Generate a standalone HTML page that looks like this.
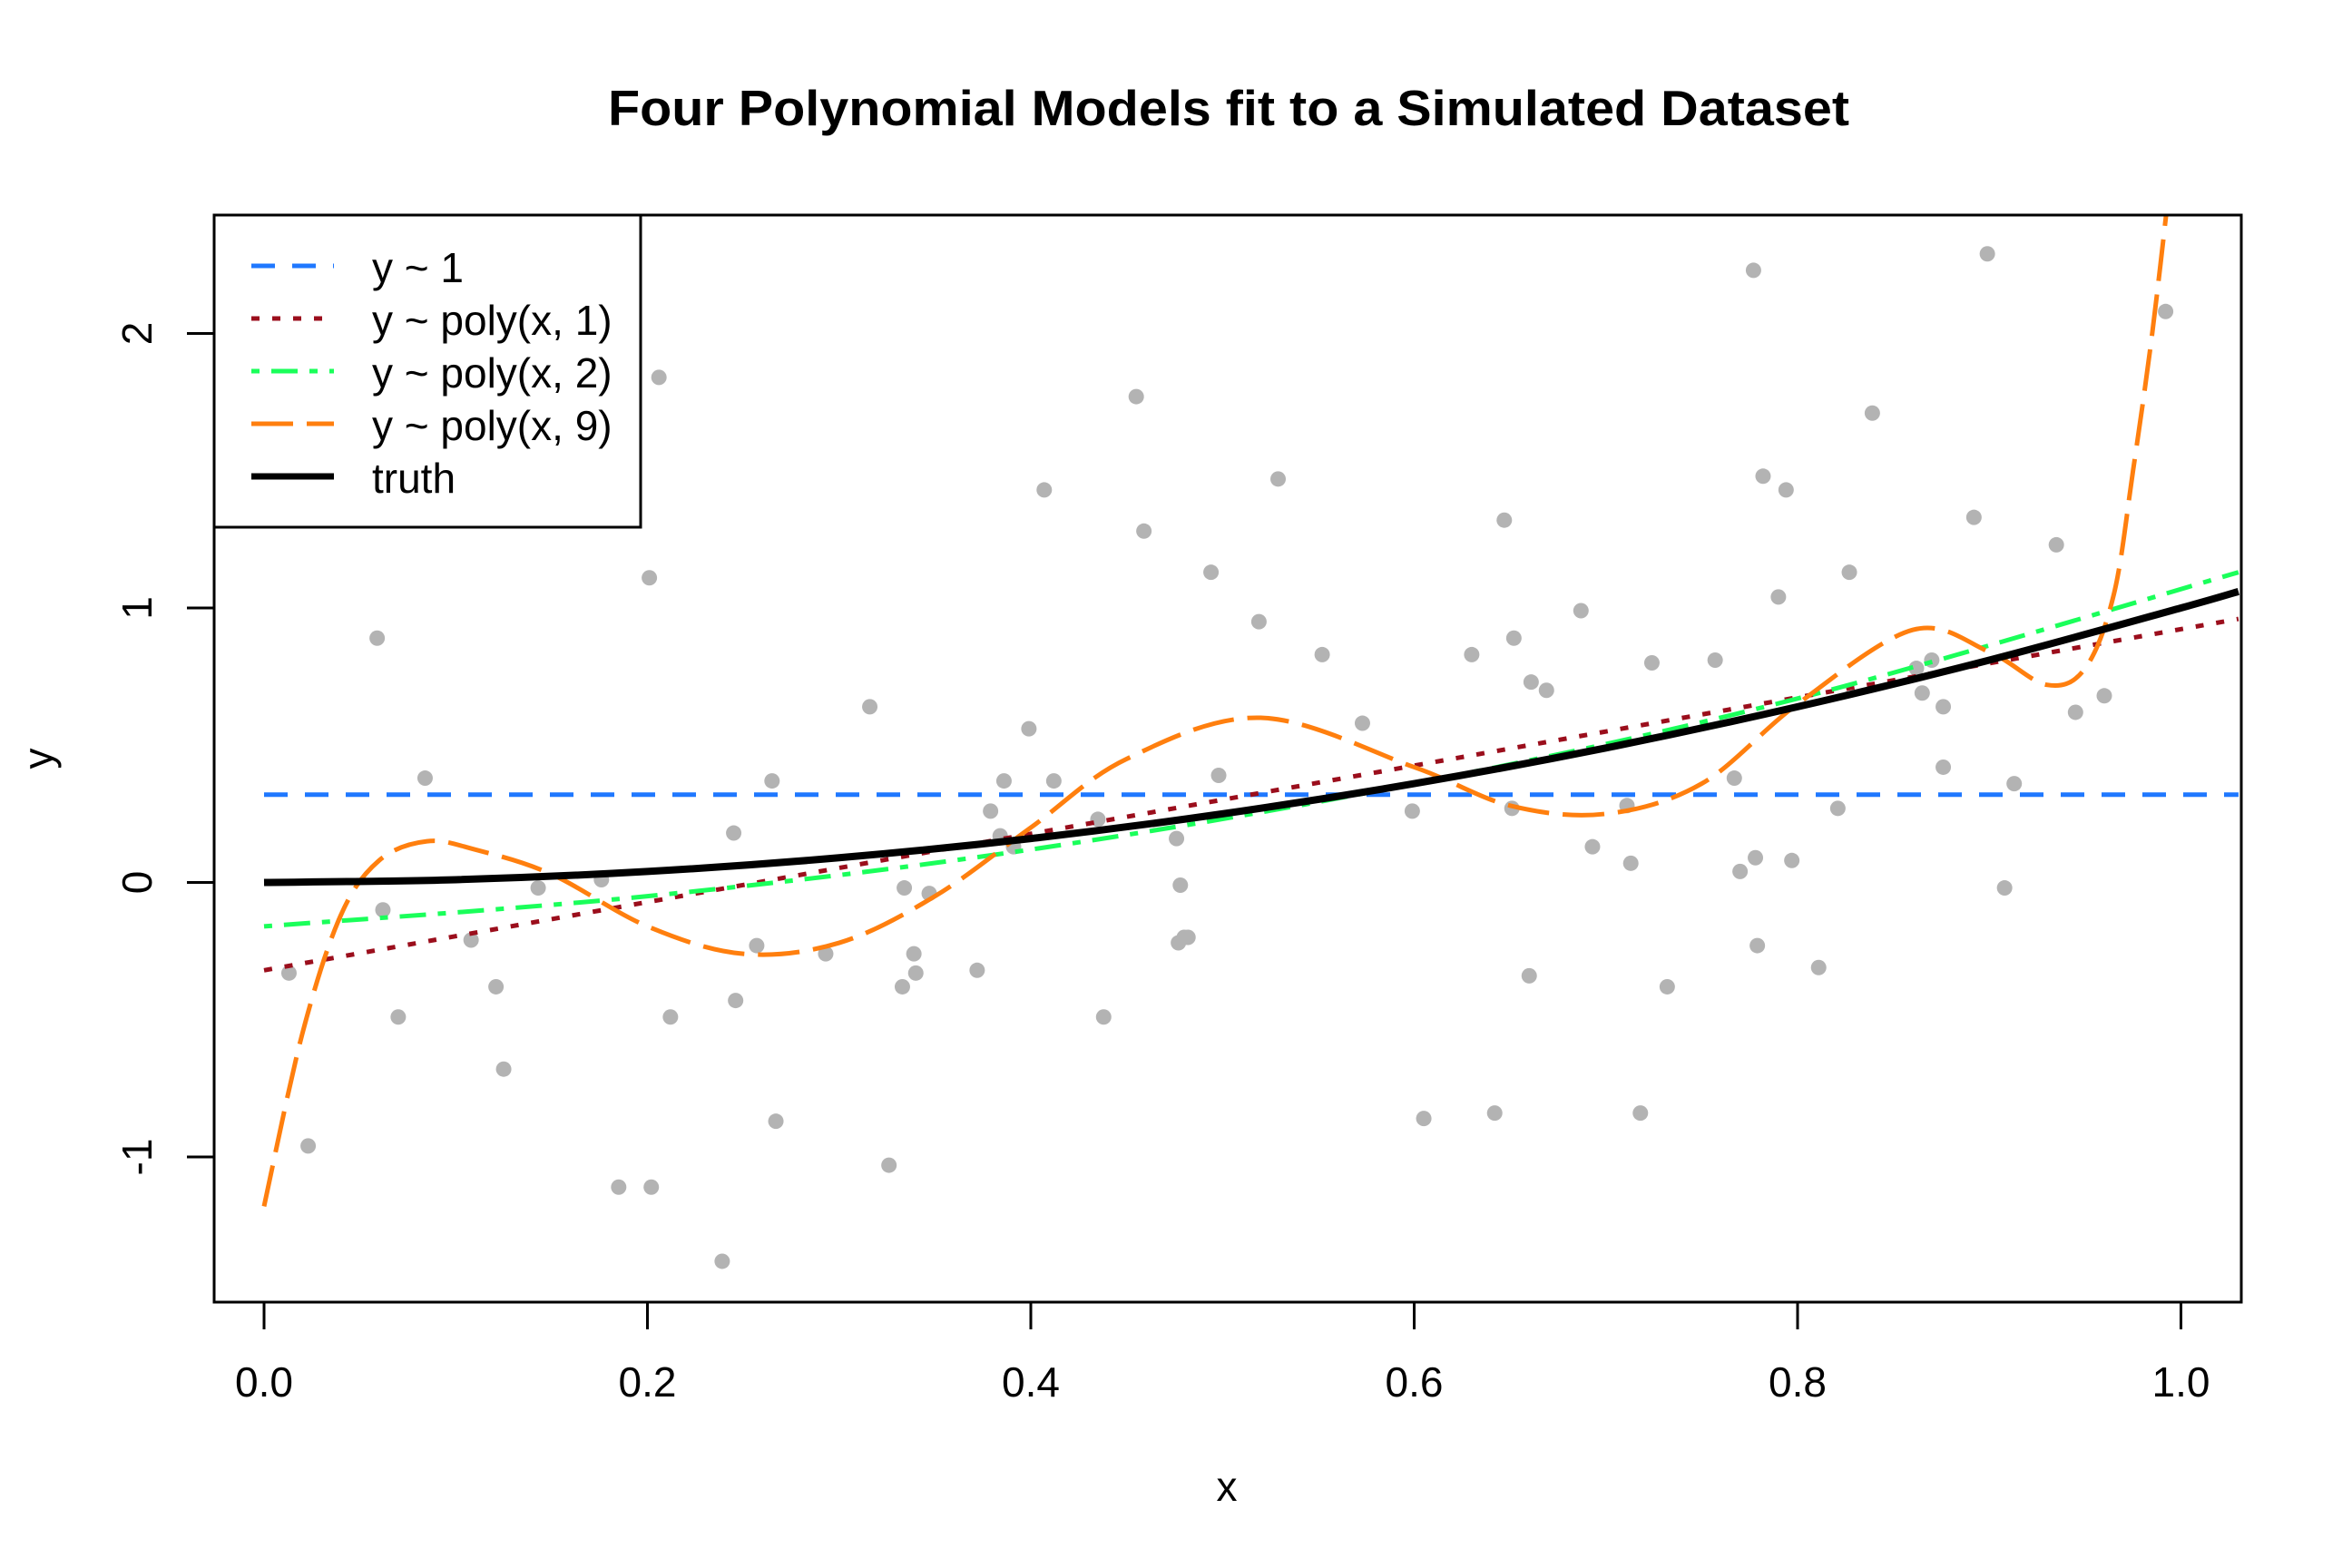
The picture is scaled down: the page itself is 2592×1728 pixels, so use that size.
<!DOCTYPE html>
<html><head><meta charset="utf-8"><style>html,body{margin:0;padding:0;background:#fff}svg{display:block}</style></head>
<body>
<svg id="chart" xmlns="http://www.w3.org/2000/svg" width="2592" height="1728" viewBox="0 0 2592 1728" font-family="Liberation Sans, sans-serif">
<rect width="2592" height="1728" fill="#fff"/>
<text x="1354" y="138" font-size="55" font-weight="bold" text-anchor="middle" textLength="1368" lengthAdjust="spacingAndGlyphs">Four Polynomial Models fit to a Simulated Dataset</text>
<g id="marks"></g>
<g id="axes"></g>
<g id="legend"></g>
</svg>
<script>
const ptsX=[.013,.023,.059,.062,.070,.084,.108,.121,.125,.143,.176,.185,.201,.202,.206,.212,.239,.245,.246,.257,.265,.267,.293,.316,.326,.333,.334,.339,.340,.347,.372,.379,.384,.386,.391,.399,.407,.412,.435,.438,.455,.459,.476,.477,.478,.480,.482,.494,.498,.519,.529,.552,.573,.599,.605,.630,.642,.647,.651,.652,.660,.661,.669,.687,.693,.711,.713,.718,.724,.732,.757,.767,.770,.777,.778,.779,.782,.790,.794,.797,.811,.821,.827,.839,.862,.865,.870,.876,.876,.892,.899,.908,.913,.945,.935,.960,.992];
const ptsY=[-.33,-.96,.89,-.10,-.49,.38,-.21,-.38,-.68,-.02,.01,-1.11,1.11,-1.11,1.84,-.49,-1.38,.18,-.43,-.23,.37,-.87,-.26,.64,-1.03,-.38,-.02,-.26,-.33,-.04,-.32,.26,.17,.37,.13,.56,1.43,.37,.23,-.49,1.77,1.28,.16,-.22,-.01,-.20,-.20,1.13,.39,.95,1.47,.83,.58,.26,-.86,.83,-.84,1.32,.27,.89,-.34,.73,.70,.99,.13,.28,.07,-.84,.80,-.38,.81,.38,.04,2.23,.09,-.23,1.48,1.04,1.43,.08,-.31,.27,1.13,1.71,.78,.69,.81,.64,.42,1.33,2.29,-.02,.36,.62,1.23,.68,2.08];
const curveX=[0,.02,.04,.06,.085,.11,.15,.2,.25,.3,.35,.4,.45,.52,.6,.65,.7,.75,.8,.86,.9,.93,.95,.965,.975,.985,.995];
const fit9Y=[-1.18,-.55,-.12,.08,.15,.12,.03,-.16,-.26,-.22,-.05,.2,.45,.6,.42,.28,.25,.36,.65,.92,.84,.72,.78,1.05,1.5,2.0,2.6];
const truthX=[0,.1,.2,.3,.4,.5,.6,.7,.8,.9,1.0,1.03];
const truthY=[0,.01,.04,.09,.16,.25,.36,.49,.64,.81,1.0,1.06];
const fit1X=[0,1.03];const fit1Y=[-.32,.96];
const fit2X=[0,.2,.4,.6,.8,1.03];const fit2Y=[-.16,-.05,.12,.36,.67,1.13];
const fit0Y=[.32];
const xTicks=[0,.2,.4,.6,.8,1.0];const xTickLabels=["0.0","0.2","0.4","0.6","0.8","1.0"];
const yTicks=[-1,0,1,2];const yTickLabels=["-1","0","1","2"];

const L=236,R=2470,T=237,B=1435;
const sx=v=>291+v*2112.5, sy=v=>972.5-v*302.5;
const NS='http://www.w3.org/2000/svg';
function mk(tag,attrs,parent){const e=document.createElementNS(NS,tag);for(const k in attrs)e.setAttribute(k,attrs[k]);parent.appendChild(e);return e;}
const marks=document.getElementById('marks'),axes=document.getElementById('axes'),leg=document.getElementById('legend');
mk('clipPath',{id:'clip'},marks);mk('rect',{x:L,y:T,width:R-L,height:B-T},document.getElementById('clip'));
const g=mk('g',{'clip-path':'url(#clip)'},marks);


ptsX.forEach((x,i)=>{const c=mk('circle',{cx:sx(x),cy:sy(ptsY[i]),r:8.5,fill:'#b3b3b3'},g);

});
function smooth(xs,ys){const p=xs.map((x,i)=>[sx(x),sy(ys[i])]);let d='M'+p[0][0]+','+p[0][1];
for(let i=0;i<p.length-1;i++){const p0=p[i-1]||p[i],p1=p[i],p2=p[i+1],p3=p[i+2]||p2;
d+=' C'+(p1[0]+(p2[0]-p0[0])/6)+','+(p1[1]+(p2[1]-p0[1])/6)+' '+(p2[0]-(p3[0]-p1[0])/6)+','+(p2[1]-(p3[1]-p1[1])/6)+' '+p2[0]+','+p2[1];}return d;}
let e;
e=mk('line',{x1:sx(0),x2:sx(1.03),y1:sy(fit0Y[0]),y2:sy(fit0Y[0]),stroke:'#1f78ff','stroke-width':5,'stroke-dasharray':'26 19'},g);


e=mk('path',{d:smooth(fit1X,fit1Y),fill:'none',stroke:'#9b0e1c','stroke-width':5,'stroke-dasharray':'9 14'},g);


e=mk('path',{d:smooth(fit2X,fit2Y),fill:'none',stroke:'#1aff5a','stroke-width':5,'stroke-dasharray':'9 13 29 13'},g);


e=mk('path',{d:smooth(curveX,fit9Y),fill:'none',stroke:'#ff7f0e','stroke-width':5,'stroke-dasharray':'46 15'},g);


e=mk('path',{d:smooth(truthX,truthY),fill:'none',stroke:'#000','stroke-width':8},g);


e=mk('rect',{x:L,y:T,width:R-L,height:B-T,fill:'none',stroke:'#000','stroke-width':3},axes);


xTicks.forEach((v,i)=>{mk('line',{x1:sx(v),x2:sx(v),y1:B,y2:B+30,stroke:'#000','stroke-width':3},axes);
const t=mk('text',{x:sx(v),y:1539,'font-size':46,'text-anchor':'middle'},axes);t.textContent=xTickLabels[i];

});
yTicks.forEach((v,i)=>{mk('line',{x1:L,x2:L-30,y1:sy(v),y2:sy(v),stroke:'#000','stroke-width':3},axes);
const t=mk('text',{x:167,y:sy(v),'font-size':46,'text-anchor':'middle',transform:'rotate(-90 167 '+sy(v)+')'},axes);t.textContent=yTickLabels[i];

});
e=mk('text',{x:1352,y:1654,'font-size':46,'text-anchor':'middle'},axes);e.textContent='x';


e=mk('text',{x:58,y:836,'font-size':46,'text-anchor':'middle',transform:'rotate(-90 58 836)'},axes);e.textContent='y';


const legLabels=['y ~ 1','y ~ poly(x, 1)','y ~ poly(x, 2)','y ~ poly(x, 9)','truth'];
const legColors=['#1f78ff','#9b0e1c','#1aff5a','#ff7f0e','#000'];
const legDash=['26 19','9 14','9 13 29 13','46 15','none'];
e=mk('rect',{x:236,y:237,width:470,height:344,fill:'#fff',stroke:'#000','stroke-width':3},leg);


legLabels.forEach((s,i)=>{const cy=293+i*58;
const ln=mk('line',{x1:277,x2:368,y1:cy,y2:cy,stroke:legColors[i],'stroke-width':i==4?7:5,'stroke-dasharray':legDash[i]},leg);


const t=mk('text',{x:410,y:cy+18,'font-size':46},leg);t.textContent=s;

});
</script>
</body></html>
